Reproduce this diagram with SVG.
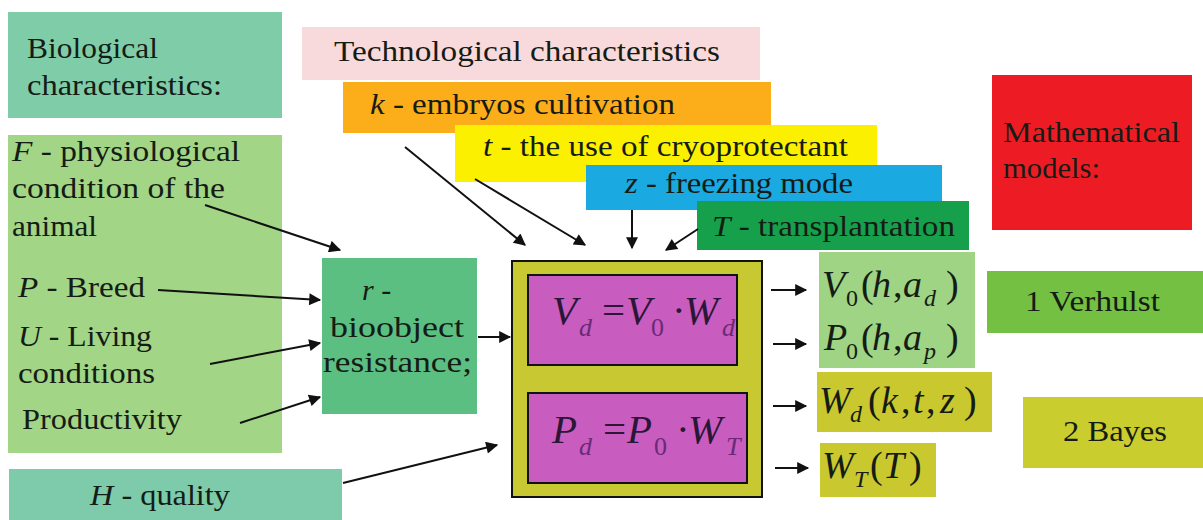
<svg xmlns="http://www.w3.org/2000/svg" width="1203" height="520" viewBox="0 0 1203 520" font-family="Liberation Serif, Times New Roman, serif">
<defs>
<style>
text{font-size:30px;fill:#151c15;}
.i{font-style:italic;}
.m{font-style:italic;font-size:38px;}
.n{font-style:normal;font-size:38px;}
.s{font-style:normal;font-size:24px;}
.si{font-style:italic;font-size:24px;}
.f{fill:#2a1636;font-size:41px;}
.f .n{font-size:41px;}
.f .s,.f .si{fill:#6a2a76;font-size:26px;}
.c{stroke:#111;stroke-width:2;fill:none;marker-end:url(#ah);}
</style>
<marker id="ah" viewBox="0 0 10 10" refX="9" refY="5" markerWidth="7" markerHeight="6" orient="auto" markerUnits="strokeWidth">
<path d="M0,0 L10,5 L0,10 z" fill="#111"/>
</marker>
</defs>
<rect width="1203" height="520" fill="#fff"/>

<g id="bio-title">
<rect x="8" y="12" width="274" height="106" fill="#7fcca8"/>
<text x="27" y="58" textLength="131" lengthAdjust="spacingAndGlyphs">Biological</text>
<text x="27" y="95" textLength="195" lengthAdjust="spacingAndGlyphs">characteristics:</text>
</g>

<g id="bio-list">
<rect x="8" y="135" width="274" height="318" fill="#a2d585"/>
<text x="12" y="161" textLength="228" lengthAdjust="spacingAndGlyphs"><tspan class="i">F</tspan> - physiological</text>
<text x="12" y="198" textLength="213" lengthAdjust="spacingAndGlyphs">condition of the</text>
<text x="12" y="236" textLength="85" lengthAdjust="spacingAndGlyphs">animal</text>
<text x="18" y="297" textLength="127" lengthAdjust="spacingAndGlyphs"><tspan class="i">P</tspan> - Breed</text>
<text x="18" y="346" textLength="134" lengthAdjust="spacingAndGlyphs"><tspan class="i">U</tspan> - Living</text>
<text x="18" y="383" textLength="137" lengthAdjust="spacingAndGlyphs">conditions</text>
<text x="22" y="429" textLength="160" lengthAdjust="spacingAndGlyphs">Productivity</text>
</g>

<g id="h-quality">
<rect x="9" y="469" width="333" height="51" fill="#7dcbab"/>
<text x="90" y="505" textLength="140" lengthAdjust="spacingAndGlyphs"><tspan class="i">H</tspan> - quality</text>
</g>

<g id="tech-title">
<rect x="302" y="27" width="458" height="53" fill="#f8d9dc"/>
<text x="334" y="61" textLength="386" lengthAdjust="spacingAndGlyphs">Technological characteristics</text>
</g>
<g id="tech-k">
<rect x="343" y="82" width="428" height="51" fill="#fbae1a"/>
<text x="370" y="114" textLength="305" lengthAdjust="spacingAndGlyphs"><tspan class="i">k</tspan> - embryos cultivation</text>
</g>
<g id="tech-t">
<rect x="455" y="125" width="422" height="57" fill="#fbf000"/>
<text x="483" y="156" textLength="365" lengthAdjust="spacingAndGlyphs"><tspan class="i">t</tspan> - the use of cryoprotectant</text>
</g>
<g id="tech-z">
<rect x="586" y="165" width="356" height="45" fill="#1ba9e1"/>
<text x="625" y="193" textLength="228" lengthAdjust="spacingAndGlyphs"><tspan class="i">z</tspan> - freezing mode</text>
</g>
<g id="tech-T">
<rect x="697" y="201" width="272" height="49" fill="#17a04c"/>
<text x="712" y="236" textLength="243" lengthAdjust="spacingAndGlyphs"><tspan class="i">T</tspan> - transplantation</text>
</g>

<g id="math-title">
<rect x="992" y="75" width="200" height="155" fill="#ed1c24"/>
<text x="1003" y="142" textLength="177" lengthAdjust="spacingAndGlyphs">Mathematical</text>
<text x="1003" y="178" textLength="97" lengthAdjust="spacingAndGlyphs">models:</text>
</g>
<g id="verhulst">
<rect x="987" y="271" width="216" height="62" fill="#74c043"/>
<text x="1025" y="311" textLength="135" lengthAdjust="spacingAndGlyphs">1 Verhulst</text>
</g>
<g id="bayes">
<rect x="1023" y="397" width="180" height="71" fill="#c9cd2d"/>
<text x="1063" y="441" textLength="104" lengthAdjust="spacingAndGlyphs">2 Bayes</text>
</g>

<g id="r-box">
<rect x="322" y="258" width="155" height="156" fill="#5cbf82"/>
<text x="362" y="300"><tspan class="i">r</tspan> -</text>
<text x="330" y="337" textLength="134" lengthAdjust="spacingAndGlyphs">bioobject</text>
<text x="323" y="372" textLength="149" lengthAdjust="spacingAndGlyphs">resistance;</text>
</g>

<g id="model-box">
<rect x="512" y="261" width="250" height="236" fill="#c8c832" stroke="#111" stroke-width="2"/>
<rect x="528" y="275" width="209" height="90" fill="#c95cbf" stroke="#111" stroke-width="2"/>
<rect x="528" y="393" width="219" height="90" fill="#c95cbf" stroke="#111" stroke-width="2"/>
<text y="324" class="m f"><tspan x="552">V</tspan><tspan x="579" y="336" class="si">d</tspan><tspan x="602" y="324" class="n">=</tspan><tspan x="626">V</tspan><tspan x="651" y="336" class="s">0</tspan><tspan x="672" y="324" class="n">·</tspan><tspan x="684">W</tspan><tspan x="722" y="336" class="si">d</tspan></text>
<text y="443" class="m f"><tspan x="552">P</tspan><tspan x="579" y="455" class="si">d</tspan><tspan x="603" y="443" class="n">=</tspan><tspan x="627">P</tspan><tspan x="654" y="455" class="s">0</tspan><tspan x="676" y="443" class="n">·</tspan><tspan x="688">W</tspan><tspan x="726" y="455" class="si">T</tspan></text>
</g>

<g id="out-v0p0">
<rect x="819" y="252" width="156" height="116" fill="#9ed483"/>
<text y="297" class="m"><tspan x="822">V</tspan><tspan x="846" y="306" class="s">0</tspan><tspan x="861" y="297" class="n">(</tspan><tspan x="872">h</tspan><tspan x="893" class="n">,</tspan><tspan x="903">a</tspan><tspan x="924" y="306" class="si">d</tspan><tspan x="946" y="297" class="n">)</tspan></text>
<text y="350" class="m"><tspan x="824">P</tspan><tspan x="846" y="359" class="s">0</tspan><tspan x="861" y="350" class="n">(</tspan><tspan x="872">h</tspan><tspan x="893" class="n">,</tspan><tspan x="903">a</tspan><tspan x="924" y="359" class="si">p</tspan><tspan x="946" y="350" class="n">)</tspan></text>
</g>
<g id="out-wd">
<rect x="817" y="372" width="175" height="60" fill="#c9c92f"/>
<text y="413" class="m"><tspan x="819">W</tspan><tspan x="850" y="422" class="si">d</tspan><tspan x="868" y="413" class="n">(</tspan><tspan x="881">k</tspan><tspan x="901" class="n">,</tspan><tspan x="913">t</tspan><tspan x="926" class="n">,</tspan><tspan x="940">z</tspan><tspan x="964" class="n">)</tspan></text>
</g>
<g id="out-wt">
<rect x="820" y="443" width="116" height="54" fill="#c9c92f"/>
<text y="478" class="m"><tspan x="822">W</tspan><tspan x="854" y="487" class="si">T</tspan><tspan x="870" y="478" class="n">(</tspan><tspan x="883">T</tspan><tspan x="909" class="n">)</tspan></text>
</g>

<g id="connectors">
<line class="c" x1="205" y1="205" x2="340" y2="250"/>
<line class="c" x1="158" y1="290" x2="320" y2="300"/>
<line class="c" x1="210" y1="364" x2="320" y2="343"/>
<line class="c" x1="240" y1="423" x2="320" y2="397"/>
<line class="c" x1="343" y1="483" x2="497" y2="445"/>
<line class="c" x1="478" y1="337" x2="510" y2="337"/>
<line class="c" x1="405" y1="147" x2="525" y2="245"/>
<line class="c" x1="475" y1="179" x2="585" y2="245"/>
<line class="c" x1="632" y1="210" x2="632" y2="248"/>
<line class="c" x1="698" y1="229" x2="666" y2="250"/>
<line class="c" x1="771" y1="290" x2="806" y2="290"/>
<line class="c" x1="773" y1="344" x2="806" y2="344"/>
<line class="c" x1="773" y1="406" x2="806" y2="406"/>
<line class="c" x1="775" y1="468" x2="808" y2="468"/>
</g>
</svg>
